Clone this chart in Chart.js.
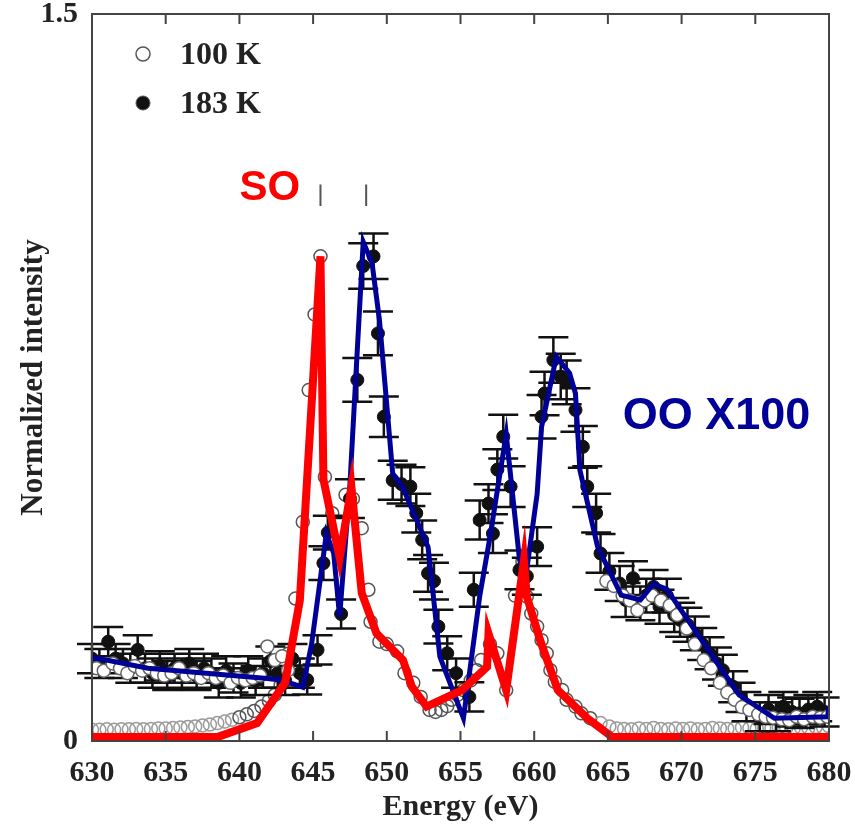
<!DOCTYPE html>
<html>
<head>
<meta charset="utf-8">
<title>Mn L-edge energy scan</title>
<script src="https://cdn.jsdelivr.net/npm/chart.js@4.4.1/dist/chart.umd.min.js"></script>
<style>
  html, body { margin: 0; padding: 0; background: #fff; }
  #wrap { width: 855px; height: 827px; }
</style>
</head>
<body>
<div id="wrap"><canvas id="scan"></canvas></div>
<script>
// x ticks (eV) and y ticks (normalized)
const xTicks = [630, 635, 640, 645, 650, 655, 660, 665, 670, 675, 680];
const yTicks = [0, 1.5];

// 100 K scan, spin-order peak
const k100Energy = [630.0, 630.5, 631.0, 631.5, 632.0, 632.5, 633.0, 633.5, 634.0, 634.5,
  635.0, 635.5, 636.0, 636.5, 637.0, 637.5, 638.0, 638.5, 639.0, 639.5,
  640.0, 640.5, 641.0, 641.5, 642.0, 642.4, 642.8, 643.3, 643.8, 644.3,
  644.7, 645.1, 645.5, 645.8, 646.3, 646.8, 647.2, 647.7, 648.3, 648.75,
  648.9, 649.5, 650.0, 650.7, 651.2, 651.8, 652.3, 652.9, 653.3, 653.7,
  654.1, 654.4, 654.8, 655.2, 655.7, 656.1, 656.4, 657.0, 657.5, 658.1,
  658.7, 659.2, 659.5, 659.8, 660.2, 660.5, 660.85, 661.1, 661.4, 661.9,
  662.2, 662.8, 663.2, 663.8, 664.5, 665.1,
  665.6, 666.1, 666.6, 667.1, 667.6, 668.1, 668.6, 669.1, 669.6, 670.1,
  670.6, 671.1, 671.6, 672.1, 672.6, 673.1, 673.6, 674.1, 674.6, 675.1,
  675.6, 676.1, 676.6, 677.1, 677.6, 678.1, 678.6, 679.1, 679.6, 680.0];
const k100Value = [0.023, 0.023, 0.024, 0.023, 0.024, 0.024, 0.025, 0.024, 0.025, 0.026,
  0.026, 0.027, 0.028, 0.029, 0.030, 0.032, 0.034, 0.037, 0.040, 0.044,
  0.049, 0.055, 0.062, 0.071, 0.083, 0.095, 0.115, 0.180, 0.294, 0.452,
  0.724, 0.880, 1.000, 0.545, 0.470, 0.400, 0.508, 0.500, 0.439, 0.312,
  0.246, 0.205, 0.200, 0.185, 0.140, 0.120, 0.091, 0.064, 0.060, 0.064,
  0.072, 0.085, 0.095, 0.105, 0.125, 0.146, 0.167, 0.200, 0.181, 0.105,
  0.300, 0.370, 0.298, 0.263, 0.236, 0.208, 0.181, 0.146, 0.122, 0.105,
  0.085, 0.071, 0.057, 0.047, 0.037, 0.030,
  0.026, 0.025, 0.024, 0.026, 0.025, 0.027, 0.025, 0.024, 0.026, 0.025,
  0.026, 0.024, 0.025, 0.027, 0.026, 0.025, 0.026, 0.028, 0.026, 0.025,
  0.027, 0.026, 0.028, 0.027, 0.026, 0.028, 0.027, 0.029, 0.028, 0.030];

// 100 K points on the orbital-order scan (pre-edge and tail)
const k100OoEnergy = [630.3, 630.8, 631.4, 631.9, 632.4, 632.9, 633.4, 633.9, 634.4, 634.9,
  635.4, 635.9, 636.4, 636.9, 637.4, 637.9, 638.4, 638.9, 639.4, 639.9,
  640.4, 640.9, 641.4, 641.9, 642.4, 642.9, 643.3,
  664.9, 665.4, 666.0, 666.5, 667.0, 667.5, 668.0, 668.6, 669.2, 669.7,
  670.35, 670.9, 671.5, 672.0, 672.6, 673.1, 673.6, 674.1, 674.6, 675.2,
  675.7, 676.2, 676.8, 677.3, 677.8, 678.3, 678.9, 679.4, 679.9];
const k100OoValue = [0.150, 0.145, 0.160, 0.150, 0.140, 0.155, 0.145, 0.150, 0.140, 0.135,
  0.140, 0.150, 0.135, 0.140, 0.130, 0.140, 0.130, 0.135, 0.120, 0.130,
  0.125, 0.130, 0.135, 0.195, 0.167, 0.175, 0.146,
  0.330, 0.320, 0.300, 0.290, 0.270, 0.290, 0.300, 0.290, 0.280, 0.260,
  0.232, 0.200, 0.167, 0.150, 0.120, 0.100, 0.085, 0.070, 0.064, 0.055,
  0.050, 0.048, 0.045, 0.043, 0.050, 0.045, 0.050, 0.048, 0.050];

// 183 K scan with error bars
const k183Energy = [630.0, 630.5, 631.1, 631.6, 632.1, 632.6, 633.1, 633.6, 634.1, 634.6,
  635.1, 635.6, 636.1, 636.6, 637.1, 637.6, 638.1, 638.6, 639.1, 639.6,
  640.1, 640.6, 641.1, 641.6, 642.1, 642.6, 643.1, 643.6, 644.1, 644.6,
  645.3, 645.7, 646.0, 646.9, 647.5, 648.0, 648.4, 649.1, 649.4, 649.8,
  650.4, 651.0, 651.6, 652.0, 652.4, 652.8, 653.2, 653.5, 654.1, 654.7,
  655.6, 655.9, 656.3, 656.9, 657.2, 657.5, 657.9, 658.4, 659.0, 659.5,
  660.2, 660.5, 660.7, 661.3, 661.8, 662.2, 662.8, 663.3, 663.6, 664.2,
  664.5, 665.1, 665.8, 666.2, 666.7, 667.2, 667.6, 668.1, 668.5, 669.0,
  669.5, 669.9, 670.4, 670.9, 671.4, 671.9, 672.4, 672.8, 673.5, 674.0,
  674.4, 675.3, 675.9, 676.4, 676.9, 677.5, 678.0, 678.6, 679.2, 679.7];
const k183Value = [0.170, 0.160, 0.205, 0.170, 0.160, 0.150, 0.188, 0.150, 0.140, 0.155,
  0.135, 0.150, 0.140, 0.160, 0.135, 0.150, 0.140, 0.120, 0.145, 0.130,
  0.120, 0.145, 0.125, 0.140, 0.165, 0.140, 0.125, 0.170, 0.140, 0.126,
  0.188, 0.367, 0.430, 0.262, 0.500, 0.745, 0.980, 1.000, 0.841, 0.669,
  0.538, 0.530, 0.525, 0.470, 0.415, 0.346, 0.330, 0.236, 0.181, 0.140,
  0.091, 0.312, 0.456, 0.490, 0.428, 0.560, 0.628, 0.525, 0.353, 0.340,
  0.401, 0.669, 0.717, 0.786, 0.752, 0.740, 0.683, 0.607, 0.525, 0.470,
  0.387, 0.350, 0.325, 0.291, 0.336, 0.284, 0.300, 0.318, 0.277, 0.300,
  0.260, 0.250, 0.240, 0.222, 0.200, 0.181, 0.160, 0.146, 0.112, 0.090,
  0.071, 0.050, 0.065, 0.050, 0.071, 0.060, 0.057, 0.065, 0.071, 0.060];
const k183Error = [0.030, 0.030, 0.030, 0.030, 0.030, 0.030, 0.030, 0.030, 0.030, 0.030,
  0.030, 0.030, 0.030, 0.030, 0.030, 0.030, 0.030, 0.030, 0.030, 0.030,
  0.030, 0.030, 0.030, 0.030, 0.030, 0.030, 0.030, 0.030, 0.030, 0.030,
  0.030, 0.035, 0.035, 0.030, 0.040, 0.045, 0.047, 0.047, 0.045, 0.042,
  0.040, 0.040, 0.040, 0.040, 0.040, 0.038, 0.038, 0.035, 0.035, 0.030,
  0.030, 0.035, 0.040, 0.040, 0.040, 0.042, 0.045, 0.042, 0.040, 0.038,
  0.040, 0.045, 0.045, 0.047, 0.047, 0.045, 0.045, 0.043, 0.042, 0.040,
  0.040, 0.038, 0.036, 0.035, 0.035, 0.035, 0.035, 0.035, 0.035, 0.035,
  0.035, 0.035, 0.035, 0.035, 0.033, 0.033, 0.033, 0.032, 0.032, 0.030,
  0.030, 0.030, 0.030, 0.030, 0.030, 0.030, 0.030, 0.030, 0.030, 0.030];

// SO curve (red)
const soEnergy = [630, 638.5, 641.2, 643.1, 644.1, 645.5, 645.7, 646.8, 647.6, 648.3,
  649.3, 651.1, 651.7, 652.7, 655.1, 656.8, 656.9, 658.1, 659.3, 659.5,
  660.4, 661.6, 663.6, 665.3, 680];
const soValue = [0.008, 0.008, 0.037, 0.120, 0.290, 1.000, 0.540, 0.378, 0.524, 0.305,
  0.222, 0.167, 0.112, 0.071, 0.105, 0.153, 0.222, 0.105, 0.372, 0.298,
  0.208, 0.105, 0.047, 0.008, 0.008];

// OO x100 curve (blue)
const ooEnergy = [630, 633.8, 641.9, 642.8, 644.3, 644.9, 645.9, 646.4, 646.8, 647.5,
  648.4, 649.0, 649.5, 650.4, 651.1, 652.8, 653.6, 655.2, 656.3, 657.0,
  658.1, 659.0, 659.4, 660.2, 660.5, 661.5, 662.4, 662.8, 663.1, 664.3,
  665.9, 667.2, 668.1, 669.0, 673.9, 676.3, 679.9, 680];
const ooValue = [0.173, 0.150, 0.129, 0.126, 0.111, 0.200, 0.428, 0.387, 0.256, 0.530,
  1.030, 0.986, 0.869, 0.552, 0.522, 0.400, 0.174, 0.047, 0.298, 0.421,
  0.633, 0.375, 0.332, 0.510, 0.648, 0.793, 0.759, 0.717, 0.559, 0.401,
  0.301, 0.291, 0.324, 0.313, 0.095, 0.047, 0.050, 0.071];

// little markers above the two L3 features
const peakMarks = [645.5, 648.6];

const serif = "'Liberation Serif', 'DejaVu Serif', serif";
const sans = "'Liberation Sans', Arial, sans-serif";
const ink = '#222';

const pts = (xs, ys) => xs.map((x, i) => ({ x: x, y: ys[i] }));

// error bars, frame, inward ticks, peak markers, text labels and the legend
const decorations = {
  id: 'decorations',
  afterDatasetDraw(chart, args) {
    if (args.index !== 1) return;
    const { ctx } = chart;
    const xs = chart.scales.x, ys = chart.scales.y;
    ctx.save();
    ctx.strokeStyle = '#111';
    ctx.lineWidth = 2.5;
    k183Energy.forEach((e, i) => {
      const px = xs.getPixelForValue(e);
      const top = ys.getPixelForValue(k183Value[i] + k183Error[i]);
      const bot = ys.getPixelForValue(k183Value[i] - k183Error[i]);
      ctx.beginPath();
      ctx.moveTo(px, top); ctx.lineTo(px, bot);
      ctx.moveTo(px - 15, top); ctx.lineTo(px + 15, top);
      ctx.moveTo(px - 15, bot); ctx.lineTo(px + 15, bot);
      ctx.stroke();
    });
    ctx.restore();
  },
  afterDraw(chart) {
    const { ctx, chartArea: a } = chart;
    const xs = chart.scales.x, ys = chart.scales.y;
    ctx.save();

    // box round the plot
    ctx.strokeStyle = '#444';
    ctx.lineWidth = 2;
    ctx.strokeRect(a.left, a.top, a.right - a.left, a.bottom - a.top);
    ctx.beginPath();
    xTicks.forEach(t => {
      const px = xs.getPixelForValue(t);
      ctx.moveTo(px, a.bottom); ctx.lineTo(px, a.bottom - 10);
      ctx.moveTo(px, a.top); ctx.lineTo(px, a.top + 10);
    });
    ctx.stroke();

    // markers over the peaks
    ctx.strokeStyle = '#555';
    ctx.lineWidth = 2;
    ctx.beginPath();
    peakMarks.forEach(e => {
      const px = xs.getPixelForValue(e);
      ctx.moveTo(px, ys.getPixelForValue(1.148));
      ctx.lineTo(px, ys.getPixelForValue(1.104));
    });
    ctx.stroke();

    // curve labels
    ctx.textBaseline = 'middle';
    ctx.textAlign = 'left';
    ctx.font = 'bold 42px ' + sans;
    ctx.fillStyle = '#ff0000';
    ctx.fillText('SO', xs.getPixelForValue(640.0), ys.getPixelForValue(1.14));
    ctx.font = 'bold 45px ' + sans;
    ctx.fillStyle = '#000099';
    ctx.fillText('OO X100', xs.getPixelForValue(666.0), ys.getPixelForValue(0.67));

    // legend
    const items = [chart.data.datasets[0], chart.data.datasets[1]];
    ctx.font = 'bold 32px ' + serif;
    items.forEach((ds, i) => {
      const cy = a.top + 40 + i * 49;
      ctx.fillStyle = ds.backgroundColor;
      ctx.strokeStyle = '#555';
      ctx.lineWidth = ds.borderWidth;
      Chart.helpers.drawPoint(ctx, { pointStyle: 'circle', radius: 7, borderWidth: ds.borderWidth }, a.left + 51, cy);
      ctx.fillStyle = ink;
      ctx.fillText(ds.label, a.left + 88, cy + 2);
    });
    ctx.restore();
  }
};

const data = {
  datasets: [
    {
      label: '100 K',
      type: 'scatter',
      data: pts(k100Energy, k100Value),
      pointStyle: 'circle',
      pointRadius: 6.5,
      backgroundColor: 'rgba(255,255,255,0)',
      borderColor: c => (c.raw && c.raw.y < 0.045 ? '#9a9a9a' : '#555'),
      borderWidth: 1.5,
      order: 5
    },
    {
      label: '183 K',
      type: 'scatter',
      data: pts(k183Energy, k183Value),
      pointStyle: 'circle',
      pointRadius: 6.5,
      backgroundColor: '#111',
      borderColor: '#111',
      borderWidth: 1,
      order: 4
    },
    {
      label: '100 K OO',
      type: 'scatter',
      data: pts(k100OoEnergy, k100OoValue),
      pointStyle: 'circle',
      pointRadius: 6.5,
      backgroundColor: '#fff',
      borderColor: '#666',
      borderWidth: 1.5,
      order: 3
    },
    {
      label: 'OO X100',
      type: 'line',
      data: pts(ooEnergy, ooValue),
      borderColor: '#000099',
      borderWidth: 5,
      pointRadius: 0,
      tension: 0,
      order: 1
    },
    {
      label: 'SO',
      type: 'line',
      data: pts(soEnergy, soValue),
      borderColor: '#ff0000',
      borderWidth: 8,
      pointRadius: 0,
      tension: 0,
      order: 0
    }
  ]
};

const options = {
  responsive: true,
  maintainAspectRatio: false,
  animation: false,
  layout: {
    padding: { top: 14, right: 26, left: 0, bottom: 0 }
  },
  plugins: {
    legend: { display: false },
    tooltip: { enabled: false }
  },
  scales: {
    x: {
      type: 'linear',
      min: 630,
      max: 680,
      afterBuildTicks: scale => { scale.ticks = xTicks.map(v => ({ value: v })); },
      afterFit: scale => {
        scale.height = 86;
        // end labels may hang past the plot edges
        scale.paddingLeft = 0;
        scale.paddingRight = 0;
      },
      grid: { display: false, drawTicks: false },
      border: { display: false },
      ticks: {
        padding: 14,
        color: ink,
        font: { family: serif, size: 30, weight: 'bold' }
      },
      title: {
        display: true,
        text: 'Energy (eV)',
        color: ink,
        padding: { top: 0, bottom: 2 },
        font: { family: serif, size: 30, weight: 'bold' }
      }
    },
    y: {
      min: 0,
      max: 1.5,
      afterBuildTicks: scale => { scale.ticks = yTicks.map(v => ({ value: v })); },
      afterFit: scale => {
        scale.width = 92;
        scale.paddingTop = 0;
        scale.paddingBottom = 0;
      },
      grid: { display: false, drawTicks: false },
      border: { display: false },
      ticks: {
        padding: 14,
        color: ink,
        font: { family: serif, size: 30, weight: 'bold' },
        callback: v => (v === 0 ? '0' : v.toFixed(1))
      },
      title: {
        display: true,
        text: 'Normalized intensity',
        color: ink,
        padding: { top: 15, bottom: 0 },
        font: { family: serif, size: 31, weight: 'bold' }
      }
    }
  }
};

new Chart(document.getElementById('scan'), {
  type: 'scatter',
  data: data,
  options: options,
  plugins: [decorations]
});
</script>
</body>
</html>
